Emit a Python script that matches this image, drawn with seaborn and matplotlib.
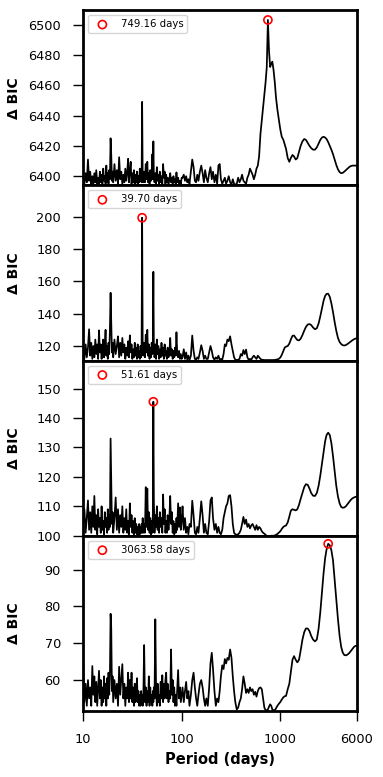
import numpy as np
import pandas as pd
import matplotlib
matplotlib.use("Agg")
import matplotlib.pyplot as plt
import seaborn as sns

# ---------------- data ----------------
period_days = [
    # 10 - 20
    10.0, 10.3, 10.6, 10.9, 11.2, 11.5, 11.8, 12.1, 12.4, 12.7, 13.0, 13.3, 13.6, 13.9, 14.2, 14.5, 14.8,
    15.1, 15.4, 15.7, 16.0, 16.3, 16.6, 16.9, 17.2, 17.5, 17.8, 18.1, 18.4, 18.7, 19.0, 19.3, 19.6, 19.9,
    # 20 - 41
    20.2, 20.8, 21.4, 22.0, 22.6, 23.2, 23.8, 24.4, 25.0, 25.6, 26.2, 26.8, 27.4, 28.0, 28.6, 29.2, 29.8,
    30.4, 31.0, 31.6, 32.2, 32.8, 33.4, 34.0, 34.6, 35.2, 35.8, 36.4, 37.0, 37.6, 38.2, 38.8, 39.2, 39.70,
    40.2, 40.8,
    # 41 - 100
    41.6, 42.4, 43.2, 44.0, 44.8, 45.6, 46.4, 47.2, 48.0, 48.8, 49.6, 50.4, 51.0, 51.61, 52.2, 53.0, 54.0,
    55.0, 56.0, 57.0, 58.0, 59.0, 60.0, 61.2, 62.4, 63.6, 64.8, 66.0, 67.2, 68.4, 69.6, 70.8, 72.0, 73.5,
    75.0, 76.5, 78.0, 79.5, 81.0, 82.5, 84.0, 85.5, 87.0, 88.5, 90.0, 92.0, 94.0, 96.0, 98.0, 100.0,
    # 100 - 300
    102, 105, 108, 111, 114, 117, 120, 124, 128, 132, 136, 140, 144, 148, 153, 158, 163, 168, 173, 178,
    184, 190, 196, 202, 208, 215, 222, 229, 236, 243, 250, 258, 266, 274, 282, 291, 300,
    # 300 - 600
    310, 320, 330, 340, 350, 362, 374, 386, 398, 410, 423, 436, 450, 464, 478, 493, 508, 524, 540, 557,
    574, 592,
    # 600 - 6000
    610, 630, 650, 670, 690, 710, 730, 749.16, 770, 790, 810, 831, 855, 880, 905, 935, 965, 1000,
    1036, 1075, 1110, 1145, 1190, 1236, 1280, 1330, 1380, 1435, 1490, 1550, 1610, 1680, 1750, 1820,
    1900, 1980, 2060, 2150, 2250, 2350, 2450, 2550, 2650, 2750, 2850, 2950, 3063.58, 3180, 3300, 3430,
    3560, 3700, 3850, 4000, 4150, 4300, 4460, 4630, 4800, 5000, 5200, 5400, 5600, 5800, 6000,
]

dbic_panel1 = [
    6399, 6395, 6402, 6396, 6411, 6397, 6403, 6395, 6400, 6394.5, 6402, 6396, 6404, 6395, 6399, 6394.5, 6403,
    6396, 6401, 6395, 6405, 6397, 6400, 6395, 6407, 6396, 6402, 6395, 6404, 6398, 6425, 6414, 6397, 6403,
    6396, 6408, 6397, 6404, 6395, 6412.5, 6398, 6403, 6395, 6401, 6396, 6405, 6397, 6402, 6411.5, 6396, 6404,
    6409.5, 6395, 6402, 6396, 6404, 6395, 6401, 6396, 6403, 6395, 6400, 6396, 6405, 6397, 6402, 6396, 6449,
    6400, 6396,
    6403, 6396, 6408, 6398, 6409.5, 6396, 6402, 6395, 6404, 6397, 6401, 6414.5, 6398, 6423, 6400, 6396, 6402,
    6395, 6406, 6397, 6401, 6395, 6403, 6396, 6400, 6395, 6408, 6399, 6403, 6395, 6401, 6396, 6399, 6395,
    6398, 6402, 6396, 6399, 6395, 6400, 6396, 6398, 6395, 6402.5, 6396, 6399, 6395, 6397, 6395, 6399,
    6399, 6401, 6397, 6400, 6396, 6398, 6395, 6403, 6411, 6406, 6397, 6396, 6401, 6397, 6403, 6407, 6402, 6396, 6404, 6399,
    6396, 6402, 6406, 6398, 6403, 6396, 6401, 6395, 6407, 6408, 6398, 6395, 6397, 6399, 6395, 6397, 6400,
    6396, 6394.5, 6398, 6395, 6394.5, 6395, 6399, 6396, 6398, 6401, 6397, 6396, 6395, 6399, 6401, 6405, 6403, 6401, 6398, 6401,
    6405, 6407,
    6413, 6428, 6437, 6446, 6454, 6462, 6472, 6503, 6482, 6472, 6474, 6475.5, 6470, 6462, 6452, 6444, 6438, 6431,
    6426, 6424, 6421, 6418, 6412, 6409.5, 6412, 6414, 6413, 6411, 6412, 6416, 6420, 6423, 6424.5, 6424,
    6422, 6420, 6418.5, 6417.5, 6417.5, 6419, 6421.5, 6424, 6425.5, 6426, 6425.5, 6424.5, 6422.5, 6420, 6417.5, 6414.5,
    6411, 6407.5, 6404.5, 6402.7, 6402, 6402.2, 6403, 6404, 6405, 6406, 6406.7, 6407, 6407, 6407, 6407,
]

dbic_panel2 = [
    118, 112, 121, 113, 119, 130.4, 114, 122, 112, 120, 113, 124, 115, 121, 112, 129.7, 116,
    121, 112, 119, 124, 113, 121, 130, 114, 120, 112, 122, 115, 130, 153, 135, 116, 122,
    113, 124, 115, 120, 126, 113, 122, 114, 125, 116, 121, 112, 119, 114, 123, 113, 126.6,
    116, 121, 112, 118, 113, 122, 114, 119, 112, 121, 113, 117, 112, 120, 113, 118, 199.5,
    121, 114,
    122, 113, 127, 116, 130, 114, 121, 112, 119, 113, 122, 115, 124, 166, 120, 113, 121,
    112, 124, 115, 120, 112, 118, 113, 122, 114, 119, 112, 121, 114, 117, 112, 119, 113,
    116, 125, 114, 118, 112, 117, 113, 119, 114, 128.5, 116, 113, 117, 112, 115, 112,
    113, 118, 112, 116, 111.5, 114, 111.3, 114, 126.5, 117, 112, 111.5, 113, 112, 116, 120.5, 117, 112, 114, 112,
    112, 116, 120, 117, 113, 111.5, 113, 112, 114, 111.5, 112, 111.5, 115, 121, 120, 124, 123,
    126, 121, 117, 113, 111.5, 111.3, 111.5, 112, 115, 114, 117.5, 115, 117.8, 113, 111.5, 112, 111.5, 113, 114, 113,
    112, 114,
    113, 112, 111.5, 111.4, 111.3, 111.3, 111.3, 111.3, 111.3, 111.3, 111.3, 111.3, 111.3, 111.4, 111.5, 111.7, 112, 112.8,
    114.5, 117, 119, 119.6, 120, 121.5, 124, 126.3, 126.5, 125, 123.7, 123.5, 124.5, 126.8, 129.5, 131.8,
    133.3, 133.6, 133, 131.5, 130.4, 131, 134, 138.5, 143.5, 148, 151, 152.3, 152.4, 150.5, 146.5, 141,
    135, 129.5, 125, 122.5, 121.2, 120.5, 120.3, 120.6, 121.2, 122, 122.8, 123.6, 124.2, 124.6, 124.8,
]

dbic_panel3 = [
    104, 109, 101, 106, 112, 102, 108, 101, 110, 103, 113.5, 102, 107, 100.5, 109, 103, 106,
    101, 110, 102, 105, 100.5, 108, 103, 106, 101, 109, 102, 107, 103, 133, 117.5, 104, 108,
    101, 106, 113, 102, 109, 101, 107, 103, 110, 101, 106, 102, 109, 101, 105, 100.5, 111,
    103, 107, 101, 105, 100.5, 106, 101, 104, 100.5, 103, 100.5, 104, 100.5, 103, 101, 104, 101,
    106, 101,
    104, 101, 116.5, 103, 116, 102, 108, 101, 106, 100.5, 105, 101, 108, 145.5, 112, 101, 107,
    103, 110, 102, 106, 101, 108, 103, 106, 101, 114, 104, 109, 101, 105, 101, 107, 102,
    106, 113.5, 104, 108, 101, 105, 100.5, 104, 101, 106, 102, 111, 103, 109.6, 102, 105,
    110, 102, 106, 101, 103, 100.5, 104, 103, 111.9, 107, 101, 100.5, 103, 101, 106, 111.7, 107, 101, 104, 101,
    100.5, 105, 112, 113, 106, 102, 104, 101, 103, 101, 100.5, 102, 106, 108, 110, 111, 113.5,
    113.8, 110, 104, 101, 100.5, 100.3, 100.5, 101, 102, 104, 106.4, 104, 105.5, 103, 104, 102.5, 103.5, 104, 103, 102,
    103.6, 102,
    103, 102.5, 101.5, 101, 100.7, 100.3, 100, 99.8, 99.8, 99.8, 100, 100, 100, 100.1, 100.3, 100.6, 101, 101.5,
    102.3, 103, 103.3, 103.5, 104.5, 106.5, 108.5, 109, 108.8, 108.6, 109, 110.5, 112.5, 114.5, 116.5, 117.5,
    117.3, 116, 114.5, 113.6, 113.5, 114.5, 117, 120.5, 124.5, 128.5, 132, 134.2, 135, 134.2, 131.5, 127,
    122, 117, 113.3, 111, 109.8, 109.5, 109.6, 110, 110.7, 111.5, 112.2, 112.7, 113, 113.2, 113.3,
]

dbic_panel4 = [
    65.4, 54, 59, 53, 60, 55, 58, 53, 63.8, 56, 61, 54, 59.5, 53, 58, 62.5, 55,
    60, 53, 58, 54, 61, 55, 59, 53, 60.5, 55, 62, 56, 61, 78, 74, 57, 61,
    54, 60, 55, 59, 53, 63.6, 56, 60, 64.3, 55, 59, 53, 58, 55, 62, 54, 60,
    55, 62, 54, 58, 53, 59, 54, 57, 60.5, 54, 57, 53, 56, 53, 57, 54, 56,
    53, 55,
    69.5, 54, 58, 53, 57, 54, 61, 53, 58, 54, 56, 53, 57, 54, 58, 55, 76.5,
    57, 53, 59, 54, 56, 53, 59.5, 55, 61.3, 54, 59, 55, 60, 62, 55, 59, 54,
    57, 55, 68.3, 56, 60, 54, 58, 53, 56, 53, 57, 62.7, 55, 58, 54, 56,
    58, 54, 57, 59.5, 55, 57, 53, 56, 60, 62, 58, 55, 53, 56, 59, 60, 58, 55, 53, 55,
    53, 58, 64.6, 67.4, 62.9, 57, 53, 55, 54, 57, 61, 64, 63, 65.7, 64.5, 66, 65.5,
    68.3, 66, 61, 57, 54, 52, 52.5, 54, 55, 57.5, 61, 59, 56.5, 57.5, 56.5, 58, 57, 57.5, 56, 56.8,
    55.5, 57,
    57.8, 58, 57.5, 55, 52.5, 51.8, 51.8, 52, 52.8, 53.4, 53, 52, 51.8, 51.8, 52.3, 53, 53.5, 54,
    54.7, 55.3, 55.6, 55.7, 57.5, 59, 62, 65.5, 66.5, 65.5, 64.8, 65.5, 68, 71, 73, 74,
    74, 73.3, 72, 71, 70.5, 71, 74, 78.5, 84, 89, 93, 95.5, 97.0, 96.6, 95.3, 92.5,
    87.5, 82, 76.5, 72, 69, 67.5, 66.8, 66.7, 66.9, 67.3, 67.9, 68.5, 69, 69.3, 69.3,
]

panel_values = [dbic_panel1, dbic_panel2, dbic_panel3, dbic_panel4]
y_limits = [(6394, 6509.5), (111, 219.6), (100, 159.5), (51.6, 99.2)]
y_ticks = [[6400, 6420, 6440, 6460, 6480, 6500],
           [120, 140, 160, 180, 200],
           [100, 110, 120, 130, 140, 150],
           [60, 70, 80, 90]]
x_ticks = [10, 100, 1000, 6000]
x_ticklabels = ["10", "100", "1000", "6000"]

# ---------------- plot ----------------
sns.set_theme(style="ticks")
plt.rcParams["font.family"] = ["DejaVu Sans"]
plt.rcParams.update({"text.color": "black", "axes.labelcolor": "black",
                     "xtick.color": "black", "ytick.color": "black",
                     "axes.edgecolor": "black"})

fig, axes = plt.subplots(4, 1, sharex=True, figsize=(3.83, 7.77), dpi=100)
fig.subplots_adjust(left=0.217, right=0.932, top=0.987, bottom=0.085, hspace=0)

for ax, vals, ylim, yt in zip(axes, panel_values, y_limits, y_ticks):
    df = pd.DataFrame({"period": period_days, "dbic": vals})
    sns.lineplot(data=df, x="period", y="dbic", ax=ax, color="black",
                 linewidth=1.25, estimator=None, sort=True)
    imax = int(np.argmax(vals))
    best = df.iloc[[imax]]
    sns.scatterplot(data=best, x="period", y="dbic", ax=ax, marker="o",
                    s=34, facecolor="none", edgecolor="red", linewidth=1.2,
                    label=f"{period_days[imax]:.2f} days", zorder=5)
    ax.set_xscale("log")
    ax.set_xlim(10, 6000)
    ax.set_ylim(*ylim)
    ax.set_yticks(yt)
    ax.set_ylabel("Δ BIC", fontsize=10, fontweight="bold", color="black")
    ax.yaxis.set_label_coords(-0.225, 0.5)
    ax.set_xlabel("")
    for sp in ax.spines.values():
        sp.set_linewidth(2.0)
        sp.set_color("black")
    ax.tick_params(axis="both", which="major", labelsize=9.3, length=7, width=1.0,
                   direction="out", pad=9, colors="black", labelcolor="black")
    ax.tick_params(axis="x", which="minor", length=0)
    leg = ax.legend(loc="upper left", fontsize=7.3, frameon=True, scatterpoints=1)
    for t in leg.get_texts():
        t.set_color("black")

axes[-1].set_xticks(x_ticks)
axes[-1].set_xticklabels(x_ticklabels)
axes[-1].xaxis.set_minor_locator(matplotlib.ticker.NullLocator())
axes[-1].set_xlabel("Period (days)", fontsize=10.5, fontweight="bold", color="black")

fig.savefig("out.png", dpi=100)
